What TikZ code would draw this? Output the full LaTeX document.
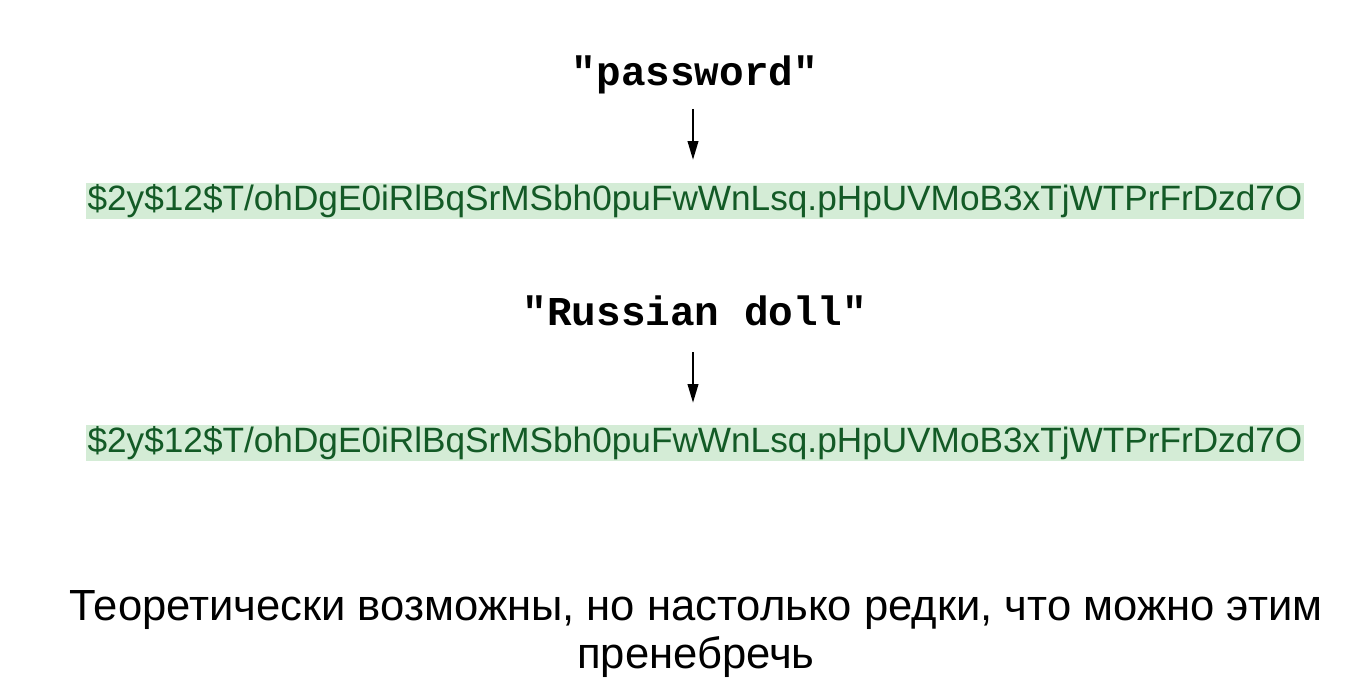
\documentclass[tikz,border=0pt]{standalone}
\usepackage{fontspec}
\setmainfont{Liberation Sans}
\newfontfamily\codefont{Liberation Mono}
\usetikzlibrary{arrows.meta}
\definecolor{hashgreen}{HTML}{135A26}
\definecolor{hashbg}{HTML}{D4ECD6}
\begin{document}
\begin{tikzpicture}[x=0.75pt,y=-0.75pt]

    \tikzset{
      plain/.style={
        anchor=base,
        inner sep=0pt,
        font=\codefont\bfseries\fontsize{30.75pt}{36pt}\selectfont,
      },
      hash/.style={
        anchor=base,
        fill=hashbg,
        text=hashgreen,
        inner xsep=1.5pt,
        inner ysep=0pt,
        text height=20.25pt,
        text depth=6.75pt,
        font=\fontsize{26.4pt}{30pt}\selectfont,
      },
      maparrow/.style={
        line width=1.3pt,
        -{Triangle[width=8pt,length=14pt]},
      },
    }
    \useasboundingbox (0,0) rectangle (1371,696);
	\node[plain] (pwd) at (695,85) {"password"};
	\node[hash] (hashA) at (695,210) {\$2y\$12\$T/ohDgE0iRlBqSrMSbh0puFwWnLsq.pHpUVMoB3xTjWTPrFrDzd7O};
	\node[plain] (doll) at (695,325) {"Russian doll"};
	\node[hash] (hashB) at (695,452) {\$2y\$12\$T/ohDgE0iRlBqSrMSbh0puFwWnLsq.pHpUVMoB3xTjWTPrFrDzd7O};
	\draw[maparrow] ([xshift=-1.5pt,yshift=-11.25pt]pwd.south) -- ([xshift=-1.5pt,yshift=17.25pt]hashA.north);
	\draw[maparrow] ([xshift=-1.5pt,yshift=-20pt]doll.south) -- ([xshift=-1.5pt,yshift=16.5pt]hashB.north);
	\node[anchor=base,inner sep=0pt,align=center,font=\fontsize{32.7pt}{36pt}\selectfont] (note) at (696,668) {Теоретически возможны, но настолько редки, что можно этим\\пренебречь};

\end{tikzpicture}
\end{document}
